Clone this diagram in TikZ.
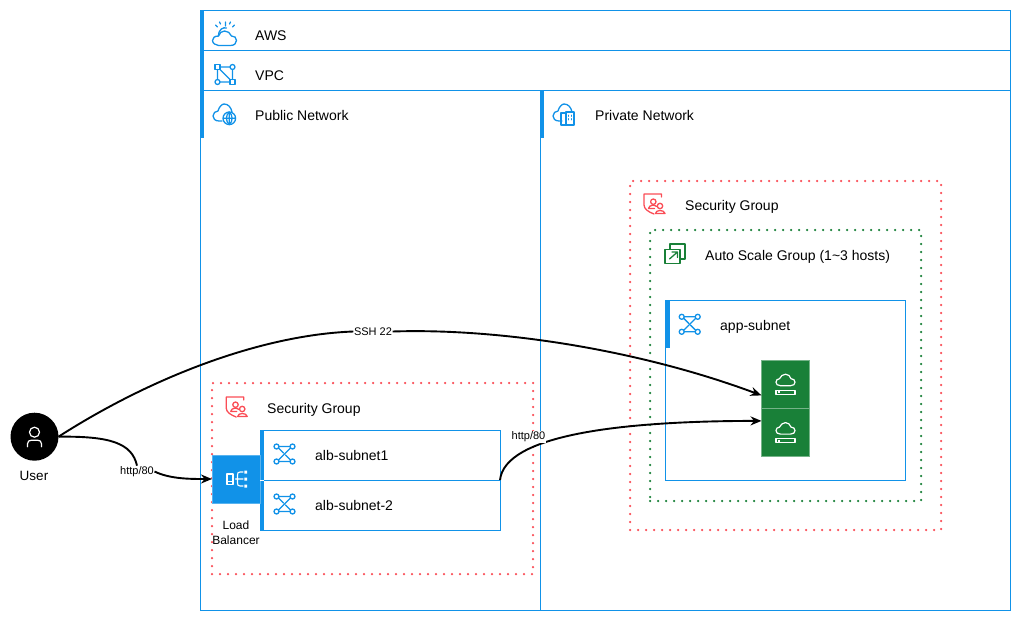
\documentclass[tikz,border=0pt]{standalone}
\usepackage{fontspec}
\setmainfont{Liberation Sans}
\usetikzlibrary{arrows.meta}
\definecolor{netBlue}{RGB}{17, 146, 232}
\definecolor{sgRed}{RGB}{250, 77, 86}
\definecolor{asgGreen}{RGB}{25, 128, 56}
\tikzset{
  netbox/.style={draw=netBlue, line width=1pt, inner sep=0pt, outer sep=0pt, anchor=north west},
  dotbox/.style={draw=#1, line width=2.5pt, line cap=round, dash pattern=on 0pt off 8pt, inner sep=0pt, outer sep=0pt, anchor=north west},
  grouplabel/.style={anchor=base west, font=\fontsize{14}{16}\selectfont, inner sep=0pt},
  edgelabel/.style={font=\fontsize{11}{13}\selectfont, fill=white, inner sep=0.5pt},
  flow/.style={line width=1.9pt, black},
  flowend/.style={-{Stealth[length=11pt, width=9pt]}},
  icon/.style={line width=1.3pt, line cap=round, line join=round},
  pics/netcloud/.style={code={
    \draw (-3,6) -- (-6,6) .. controls (-10,6) and (-12,3.5) .. (-12,1)
      .. controls (-12,-2) and (-9.5,-4) .. (-7,-4)
      .. controls (-6,-8) and (-3,-11) .. (-1,-11)
      .. controls (3,-11) and (6,-8) .. (7,-3);
  }},
  pics/awsicon/.style={code={
    \draw (-6,9.5) -- (6,9.5) .. controls (10,9.5) and (12,7) .. (12,4.5)
      .. controls (12,1.5) and (10,0) .. (7,0)
      .. controls (6,-3) and (3,-5) .. (0,-5)
      .. controls (-3,-5) and (-5,-3) .. (-6,0)
      .. controls (-10,0) and (-12,2) .. (-12,4.5)
      .. controls (-12,7) and (-9,9.5) .. (-6,9.5) -- cycle;
    \draw (-6,0) .. controls (-6,-7) and (-1,-9) .. (2,-8);
    \draw (1,-10) -- (1,-14) (-7,-9) -- (-9,-11) (8,-9) -- (10,-11) (-4,-12) -- (-5,-14) (5,-12) -- (6,-14);
  }},
  pics/vpcicon/.style={code={
    \draw (-10,-10) rectangle (-5,-5) (5,5) rectangle (10,10);
    \draw (7.5,-7.5) circle (2.5) (-7.5,7.5) circle (2.5);
    \draw (-5,-7.5) -- (5,-7.5) (-7.5,-5) -- (-7.5,5) (7.5,-5) -- (7.5,5) (-5,7.5) -- (5,7.5) (-5,-5) -- (5,5);
  }},
  pics/globeicon/.style={code={
    \pic {netcloud};
    \draw (4.3,3.3) circle (6.3) (-2,3.3) -- (10.6,3.3) (4.3,-3) -- (4.3,9.6);
    \draw (4.3,-3) .. controls (0.5,0) and (0.5,6.5) .. (4.3,9.6) .. controls (8,6.5) and (8,0) .. (4.3,-3);
  }},
  pics/buildingicon/.style={code={
    \pic {netcloud};
    \draw (-4,10) rectangle (1,-2) (1,10) rectangle (9,-3);
    \draw[line width=0.9pt] (3.5,0) -- (3.5,1.5) (6.5,0) -- (6.5,1.5) (3.5,3.5) -- (3.5,5) (6.5,3.5) -- (6.5,5);
  }},
  pics/sgicon/.style={code={
    \draw (7,-7) -- (7,-10) -- (-10.5,-10) -- (-10.5,1) .. controls (-10.5,5) and (-6,8) .. (-0.5,10);
    \draw (-1.2,-2.3) circle (2.7) (5.5,2) circle (2.7);
    \draw (-6,4.5) .. controls (-5.5,0.5) and (1,0.5) .. (2,2.5) (-6,4.5) -- (0,4.5);
    \draw (1,9.5) .. controls (1,5.5) and (10,5.5) .. (10.5,9.5) -- cycle;
  }},
  pics/asgicon/.style={code={
    \draw (-5,-5) -- (-5,-10) -- (10,-10) -- (10,5) -- (6,5);
    \draw (-10,-4.5) -- (5,-4.5) -- (5,9.5) -- (-10,9.5) -- cycle;
    \draw (-5.5,5) -- (2.5,-2) (-3,-2) -- (2.5,-2) -- (2.5,3.5);
  }},
  pics/subneticon/.style={code={
    \draw (-8,-7.5) circle (2.5) (8,-7.5) circle (2.5) (-8,7.5) circle (2.5) (8,7.5) circle (2.5);
    \draw (-5.5,-7.5) -- (5.5,-7.5) (-5.5,7.5) -- (5.5,7.5) (6,-6) -- (-6,6) (-6,-6) -- (-1,-1) (1,1) -- (6,6);
  }},
  pics/lbicon/.style={code={
    \draw (-9,-5) rectangle (-3,5.5) (-9,2.5) -- (-3,2.5);
    \draw (7,-7) -- (4,-7) .. controls (2,-7) and (1.5,-6) .. (1.5,-4) -- (1.5,4) .. controls (1.5,6) and (2,7) .. (4,7) -- (7,7) (-0.5,0) -- (7,0);
    \fill (8.3,-8.5) rectangle (11,-5.5) (8.3,-1.5) rectangle (11,1.5) (8.3,5.5) rectangle (11,8.5);
  }},
  pics/servericon/.style={code={
    \draw (-5,1.5) .. controls (-8,1.5) and (-9.5,0) .. (-9.5,-2) .. controls (-9.5,-4) and (-8,-5.5) .. (-6,-5.5)
      .. controls (-5,-8) and (-2.5,-10) .. (0,-10) .. controls (2.5,-10) and (5,-8) .. (5.5,-5.5)
      .. controls (8,-5.5) and (9.5,-4) .. (9.5,-2) .. controls (9.5,0) and (8,1.5) .. (5,1.5) -- cycle;
    \draw (-9.5,6) rectangle (9.5,10);
    \fill (-8,7) rectangle (-6,9);
  }},
  pics/usericon/.style={code={
    \draw (0,-4.5) circle (5);
    \draw (-7,10) -- (-7,7) .. controls (-7,4.5) and (-5,3.5) .. (-3,3.5) -- (3,3.5) .. controls (5,3.5) and (7,4.5) .. (7,7) -- (7,10);
  }}
}

\begin{document}
\begin{tikzpicture}[x=1pt, y=-1pt]
        \useasboundingbox (0,0) rectangle (1021,621);

        \node[netbox, minimum width=810pt, minimum height=40pt] (aws) at (200,10) {};
        \node[netbox, minimum width=810pt, minimum height=40pt] (vpc) at (200,50) {};
        \node[netbox, minimum width=340pt, minimum height=520pt] (public) at (200,90) {};
        \node[netbox, minimum width=470pt, minimum height=520pt] (private) at (540,90) {};
        \fill[netBlue] (aws.north west) rectangle ++(4,40);
        \fill[netBlue] (vpc.north west) rectangle ++(4,40);
        \fill[netBlue] (public.north west) rectangle ++(4,48);
        \fill[netBlue] (private.north west) rectangle ++(4,48);
        \pic[netBlue, icon] at (224.5,36) {awsicon};
        \pic[netBlue, icon] at (225,74.5) {vpcicon};
        \pic[netBlue, icon] at (225,115) {globeicon};
        \pic[netBlue, icon] at (565,115) {buildingicon};
        \node[grouplabel] (awslabel) at (255,40) {AWS};
        \node[grouplabel] (vpclabel) at (255,80) {VPC};
        \node[grouplabel] (publiclabel) at (255,120) {Public Network};
        \node[grouplabel] (privatelabel) at (595,120) {Private Network};

        \node[dotbox=sgRed, minimum width=321pt, minimum height=191pt] (albsg) at (212,383) {};
        \pic[sgRed, icon] at (236.7,407) {sgicon};
        \node[grouplabel] (albsglabel) at (267,413) {Security Group};
        \node[netbox, minimum width=240pt, minimum height=50pt] (albone) at (260,430) {};
        \node[netbox, minimum width=240pt, minimum height=50pt] (albtwo) at (260,480) {};
        \fill[netBlue] (albone.north west) rectangle ++(4,50);
        \fill[netBlue] (albtwo.north west) rectangle ++(4,50);
        \pic[netBlue, icon] at (284.5,454) {subneticon};
        \pic[netBlue, icon] at (284.5,504) {subneticon};
        \node[grouplabel] (albonelabel) at (315,460) {alb-subnet1};
        \node[grouplabel] (albtwolabel) at (315,510) {alb-subnet-2};
        \node[fill=netBlue, draw=netBlue!70!white, line width=0.7pt, minimum size=48pt, inner sep=0pt, outer sep=0pt] (lb) at (236,479) {};
        \draw[white, line width=0.8pt] (albone.south west) -- ++(4,0);
        \pic[white, icon, line width=1.1pt] at (lb.center) {lbicon};
        \node[below=0pt, align=center, inner sep=0pt, font=\fontsize{12}{15}\selectfont] (lblabel) at (236,520.5) {Load\\Balancer};

        \node[dotbox=sgRed, minimum width=311pt, minimum height=349pt] (appsg) at (630,181) {};
        \pic[sgRed, icon] at (654.5,204) {sgicon};
        \node[grouplabel] (appsglabel) at (685,210) {Security Group};
        \node[dotbox=asgGreen, minimum width=271pt, minimum height=271pt] (asg) at (650,230) {};
        \pic[asgGreen, icon] at (675,254) {asgicon};
        \node[grouplabel] (asglabel) at (705,260) {Auto Scale Group (1\textasciitilde3 hosts)};
        \node[netbox, minimum width=240pt, minimum height=180pt] (appnet) at (665,300) {};
        \fill[netBlue] (appnet.north west) rectangle ++(5,48);
        \pic[netBlue, icon] at (689.7,324.3) {subneticon};
        \node[grouplabel] (appnetlabel) at (720,330) {app-subnet};
        \node[fill=asgGreen, draw=asgGreen!60!white, line width=0.7pt, minimum size=48pt, inner sep=0pt, outer sep=0pt] (srvone) at (785.5,384.2) {};
        \node[fill=asgGreen, draw=asgGreen!60!white, line width=0.7pt, minimum size=48pt, inner sep=0pt, outer sep=0pt] (srvtwo) at (785.5,432.6) {};
        \pic[white, icon, line width=1.2pt] at (srvone.center) {servericon};
        \pic[white, icon, line width=1.2pt] at (srvtwo.center) {servericon};

        \node[circle, fill=black, minimum size=48pt, inner sep=0pt, outer sep=0pt] (user) at (34.5,436.7) {};
        \pic[white, icon, line width=1.2pt] at (user.center) {usericon};
        \node[font=\fontsize{13.5}{16}\selectfont, inner sep=0pt, anchor=base] (userlabel) at (34,480) {User};

        \node[edgelabel] (httpin) at (137,471.5) {http/80};
        \node[edgelabel] (ssh) at (373,331.5) {SSH 22};
        \draw[flow] (user.east) .. controls (110,436) and (132,443) .. (httpin.north);
        \draw[flow, flowend] (httpin.east) .. controls (170,479) and (190,479) .. (lb.west);
        \draw[flow] (user.east) .. controls (150,378) and (260,335) .. (ssh.west);
        \draw[flow, flowend] (ssh.east) .. controls (500,328) and (640,350) .. (srvone.205);
        \draw[flow, flowend] (albone.south east) .. controls (505,435) and (620,421) .. (srvtwo.154);
        \node[edgelabel] (httpout) at (528.5,437) {http/80};
      \end{tikzpicture}
\end{document}
